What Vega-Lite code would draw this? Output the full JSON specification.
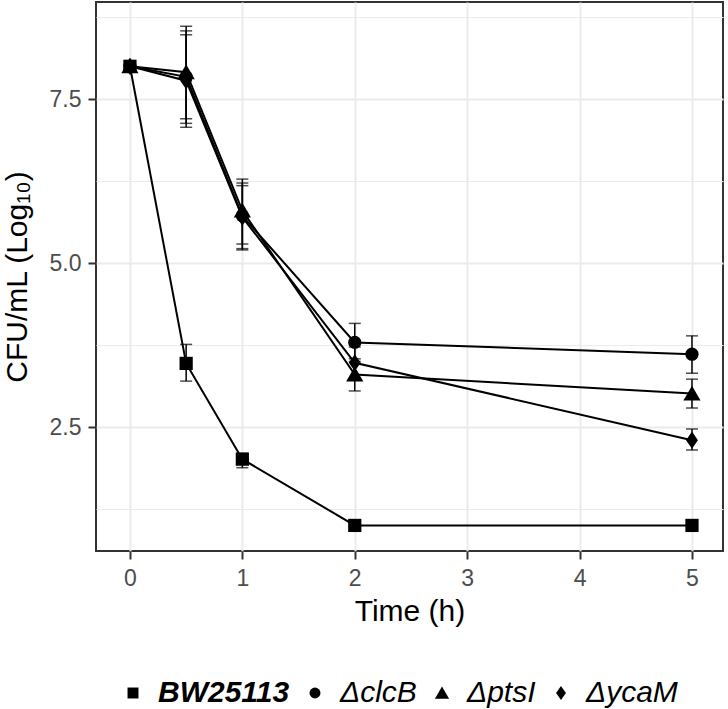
{
  "$schema": "https://vega.github.io/schema/vega-lite/v6.json",
  "width": 627,
  "height": 549,
  "autosize": "none",
  "padding": {"left": 96, "top": 2, "right": 5, "bottom": 158},
  "data": {
    "values": [
      {"strain": "BW25113", "time": 0, "mean": 8.0, "lo": 7.98, "hi": 8.02},
      {"strain": "BW25113", "time": 0.5, "mean": 3.47, "lo": 3.2, "hi": 3.76},
      {"strain": "BW25113", "time": 1, "mean": 2.01, "lo": 1.88, "hi": 2.1},
      {"strain": "BW25113", "time": 2, "mean": 1.0, "lo": 0.99, "hi": 1.01},
      {"strain": "BW25113", "time": 5, "mean": 1.0, "lo": 0.99, "hi": 1.01},
      {"strain": "ΔclcB", "time": 0, "mean": 8.0, "lo": 7.98, "hi": 8.02},
      {"strain": "ΔclcB", "time": 0.5, "mean": 7.84, "lo": 7.13, "hi": 8.54},
      {"strain": "ΔclcB", "time": 1, "mean": 5.72, "lo": 5.2, "hi": 6.22},
      {"strain": "ΔclcB", "time": 2, "mean": 3.79, "lo": 3.5, "hi": 4.08},
      {"strain": "ΔclcB", "time": 5, "mean": 3.61, "lo": 3.32, "hi": 3.89},
      {"strain": "ΔptsI", "time": 0, "mean": 8.0, "lo": 7.98, "hi": 8.02},
      {"strain": "ΔptsI", "time": 0.5, "mean": 7.91, "lo": 7.2, "hi": 8.61},
      {"strain": "ΔptsI", "time": 1, "mean": 5.8, "lo": 5.29, "hi": 6.28},
      {"strain": "ΔptsI", "time": 2, "mean": 3.3, "lo": 3.05, "hi": 3.54},
      {"strain": "ΔptsI", "time": 5, "mean": 3.01, "lo": 2.79, "hi": 3.23},
      {"strain": "ΔycaM", "time": 0, "mean": 8.0, "lo": 7.98, "hi": 8.02},
      {"strain": "ΔycaM", "time": 0.5, "mean": 7.78, "lo": 7.07, "hi": 8.48},
      {"strain": "ΔycaM", "time": 1, "mean": 5.7, "lo": 5.22, "hi": 6.18},
      {"strain": "ΔycaM", "time": 2, "mean": 3.48, "lo": 3.23, "hi": 3.72},
      {"strain": "ΔycaM", "time": 5, "mean": 2.3, "lo": 2.15, "hi": 2.47}
    ]
  },
  "encoding": {
    "x": {
      "field": "time", "type": "quantitative",
      "scale": {"domain": [-0.302, 5.276], "nice": false, "zero": false},
      "axis": {
        "title": "Time (h)",
        "values": [0, 0.5, 1, 1.5, 2, 2.5, 3, 3.5, 4, 4.5, 5],
        "format": "d",
        "labelExpr": "datum.value % 1 === 0 ? datum.label : ''",
        "gridWidth": {"condition": {"test": "datum.value % 1 === 0", "value": 2}, "value": 1},
        "tickOpacity": {"condition": {"test": "datum.value % 1 === 0", "value": 1}, "value": 0},
        "labelPadding": 8,
        "titlePadding": 6
      }
    }
  },
  "layer": [
    {
      "mark": {"type": "line", "color": "black", "strokeWidth": 2},
      "encoding": {
        "y": {
          "field": "mean", "type": "quantitative",
          "scale": {"domain": [0.61, 8.98], "nice": false, "zero": false},
          "axis": {
            "title": "CFU/mL (Log₁₀)",
            "values": [1.25, 2.5, 3.75, 5, 6.25, 7.5, 8.75],
            "format": ".1f",
            "labelExpr": "datum.value % 2.5 === 0 ? datum.label : ''",
            "gridWidth": {"condition": {"test": "datum.value % 2.5 === 0", "value": 2}, "value": 1},
            "tickOpacity": {"condition": {"test": "datum.value % 2.5 === 0", "value": 1}, "value": 0},
            "labelPadding": 7,
            "titlePadding": 17
          }
        },
        "detail": {"field": "strain", "type": "nominal"}
      }
    },
    {
      "mark": {"type": "rule", "color": "black", "strokeWidth": 1.5},
      "encoding": {
        "y": {"field": "lo", "type": "quantitative", "title": "CFU/mL (Log₁₀)"},
        "y2": {"field": "hi"}
      }
    },
    {
      "mark": {"type": "tick", "orient": "horizontal", "color": "black", "size": 12, "thickness": 1.5},
      "encoding": {
        "y": {"field": "lo", "type": "quantitative", "title": "CFU/mL (Log₁₀)"}
      }
    },
    {
      "mark": {"type": "tick", "orient": "horizontal", "color": "black", "size": 12, "thickness": 1.5},
      "encoding": {
        "y": {"field": "hi", "type": "quantitative", "title": "CFU/mL (Log₁₀)"}
      }
    },
    {
      "mark": {"type": "point", "filled": true, "opacity": 1, "color": "black", "size": 175},
      "encoding": {
        "y": {"field": "mean", "type": "quantitative", "title": "CFU/mL (Log₁₀)"},
        "shape": {
          "field": "strain", "type": "nominal",
          "scale": {
            "domain": ["BW25113", "ΔclcB", "ΔptsI", "ΔycaM"],
            "range": ["square", "circle", "M0,-1.2L1.3,1.05L-1.3,1.05Z", "M0,-1.3L0.9,0L0,1.3L-0.9,0Z"]
          },
          "legend": {
            "title": null,
            "orient": "bottom",
            "direction": "horizontal",
            "offset": 30,
            "padding": 22,
            "symbolSize": 120,
            "symbolStrokeWidth": 0,
            "columnPadding": 10,
            "labelOffset": 10,
            "labelFont": "Liberation Sans",
            "labelFontSize": 30,
            "labelFontStyle": "italic",
            "labelColor": "#000000",
            "labelFontWeight": {"expr": "datum.label === 'BW25113' ? 'bold' : 'normal'"}
          }
        }
      }
    }
  ],
  "config": {
    "view": {"stroke": "#333333", "strokeWidth": 2},
    "axis": {
      "domain": false,
      "gridColor": "#EBEBEB",
      "tickColor": "#333333",
      "tickWidth": 2,
      "tickSize": 8,
      "labelFont": "Liberation Sans",
      "labelFontSize": 23,
      "labelColor": "#4D4D4D",
      "titleFont": "Liberation Sans",
      "titleFontSize": 30,
      "titleFontWeight": "normal",
      "titleColor": "#000000"
    }
  }
}
